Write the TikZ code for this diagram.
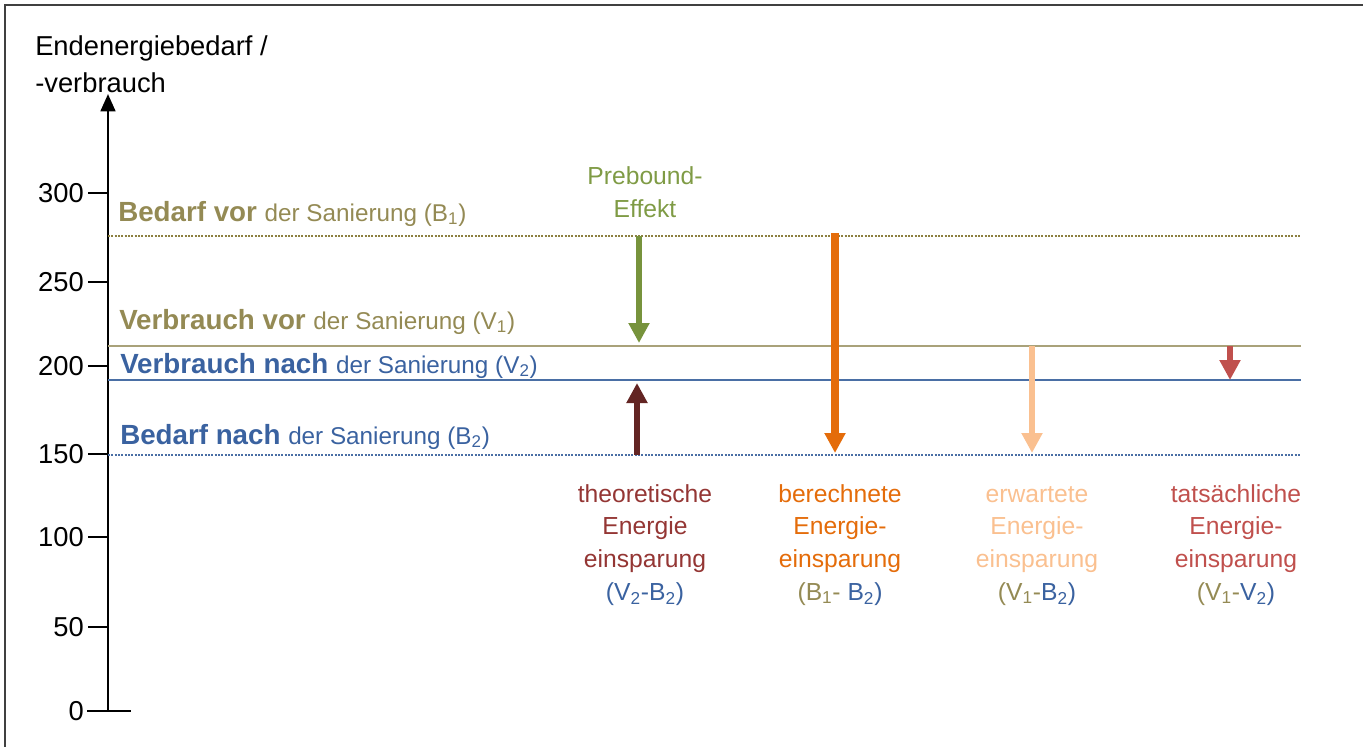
\documentclass[tikz,border=0pt]{standalone}
\usepackage{fontspec}
\setmainfont{Liberation Sans}
\usetikzlibrary{arrows.meta}
\definecolor{colOlive}{HTML}{948A54}
\definecolor{colOliveLine}{HTML}{A9A27A}
\definecolor{colOliveDot}{HTML}{8C8040}
\definecolor{colBlue}{HTML}{3A62A0}
\definecolor{colBlueLine}{HTML}{4A6FA5}
\definecolor{colGreen}{HTML}{77933C}
\definecolor{colGreenTxt}{HTML}{7F9B45}
\definecolor{colBrown}{HTML}{632523}
\definecolor{colDarkRed}{HTML}{943634}
\definecolor{colOrange}{HTML}{E46C0A}
\definecolor{colLightOrange}{HTML}{FAC090}
\definecolor{colRed}{HTML}{C0504D}
\begin{document}
\begin{tikzpicture}[x=0.75pt,y=-0.75pt,
  frameline/.style={draw=black!75,line width=1.6pt},
  axisline/.style={draw=black,line width=2pt,-{Triangle[width=11pt,length=13pt]}},
  tickline/.style={draw=black,line width=1.8pt},
  ticklbl/.style={anchor=base east,inner sep=0pt,font=\fontsize{20.5}{24}\selectfont},
  axislbl/.style={anchor=base west,inner sep=0pt,font=\fontsize{20.5}{24}\selectfont},
  levellbl/.style={anchor=base west,inner sep=0pt},
  sollid/.style={line width=2.2pt},
  dotline/.style={line width=2pt,dash pattern=on 1.4pt off 1.1pt},
  bigarrow/.style={line width=5pt,-{Triangle[width=15pt,length=15pt]}},
  collbl/.style={anchor=base,inner sep=0pt,align=center,font=\fontsize{18.5}{24.5}\selectfont},
]
\useasboundingbox (0,0) rectangle (1363,747);
% frame
\coordinate (fTL) at (5,5);
\coordinate (fTR) at (1363,5);
\coordinate (fBL) at (5,747);
\draw[frameline] (fTR) -- (fTL) -- (fBL);

% axis title
\node[axislbl] (ttl1) at (35,55) {Endenergiebedarf /};
\node[axislbl] (ttl2) at (35,92) {-verbrauch};

% axis
\coordinate (ax0) at (108,711);
\coordinate (axTop) at (108,94);
\draw[axisline] (ax0) -- (axTop);
\coordinate (z0l) at (87,711);
\coordinate (z0r) at (131,711);
\draw[tickline] (z0l) -- (z0r);
\node[ticklbl] (l0) at (84,720) {0};
\foreach \v/\yy in {50/627,100/537,150/454,200/366,250/282,300/193}{
  \draw[tickline] (88,\yy) -- (108,\yy);
  \node[ticklbl] (l\v) at (84,\yy+9) {\v};
}

% level lines
\coordinate (b1l) at (108,236);  \coordinate (b1r) at (1301,236);
\coordinate (v1l) at (108,346);  \coordinate (v1r) at (1301,346);
\coordinate (v2l) at (108,380);  \coordinate (v2r) at (1301,380);
\coordinate (b2l) at (108,455);  \coordinate (b2r) at (1301,455);
\draw[dotline,colOliveDot] (b1l) -- (b1r);
\draw[sollid,colOliveLine] (v1l) -- (v1r);
\draw[sollid,colBlueLine] (v2l) -- (v2r);
\draw[dotline,colBlueLine] (b2l) -- (b2r);

% level labels
\node[levellbl,text=colOlive] (lb1) at (118,221)
  {\fontsize{20.8}{24}\selectfont\bfseries Bedarf vor \fontsize{18.2}{22}\selectfont\mdseries der Sanierung (B\textsubscript{1})};
\node[levellbl,text=colOlive] (lv1) at (119,329)
  {\fontsize{20.8}{24}\selectfont\bfseries Verbrauch vor \fontsize{18.2}{22}\selectfont\mdseries der Sanierung (V\textsubscript{1})};
\node[levellbl,text=colBlue] (lv2) at (120,373)
  {\fontsize{20.8}{24}\selectfont\bfseries Verbrauch nach \fontsize{18.2}{22}\selectfont\mdseries der Sanierung (V\textsubscript{2})};
\node[levellbl,text=colBlue] (lb2) at (120,444)
  {\fontsize{20.8}{24}\selectfont\bfseries Bedarf nach \fontsize{18.2}{22}\selectfont\mdseries der Sanierung (B\textsubscript{2})};

% prebound
\node[collbl,text=colGreenTxt] (preb) at (645,217) {Prebound-\\Effekt};
\coordinate (g1) at (639,236); \coordinate (g2) at (639,343);
\draw[bigarrow,colGreen] (g1) -- (g2);

% theoretische (up arrow)
\coordinate (t1) at (637,455); \coordinate (t2) at (637,383);
\draw[bigarrow,colBrown] (t1) -- (t2);

% berechnete
\coordinate (o1) at (835,233); \coordinate (o2) at (835,453);
\draw[bigarrow,colOrange,line width=6pt] (o1) -- (o2);

% erwartete
\coordinate (e1) at (1032,346); \coordinate (e2) at (1032,453);
\draw[bigarrow,colLightOrange] (e1) -- (e2);

% tatsaechliche
\coordinate (r1) at (1230,346); \coordinate (r2) at (1230,380);
\draw[bigarrow,colRed] (r1) -- (r2);

% column labels
\node[collbl,text=colDarkRed] (c1) at (645,600)
  {theoretische\\Energie\\einsparung\\\textcolor{colBlue}{(V\textsubscript{2}-B\textsubscript{2})}};
\node[collbl,text=colOrange] (c2) at (840,600)
  {berechnete\\Energie-\\einsparung\\\textcolor{colOlive}{(B\textsubscript{1}-} \textcolor{colBlue}{B\textsubscript{2})}};
\node[collbl,text=colLightOrange] (c3) at (1037,600)
  {erwartete\\Energie-\\einsparung\\\textcolor{colOlive}{(V\textsubscript{1}-}\textcolor{colBlue}{B\textsubscript{2})}};
\node[collbl,text=colRed] (c4) at (1236,600)
  {tats\"achliche\\Energie-\\einsparung\\\textcolor{colOlive}{(V\textsubscript{1}-}\textcolor{colBlue}{V\textsubscript{2})}};
\end{tikzpicture}
\end{document}
